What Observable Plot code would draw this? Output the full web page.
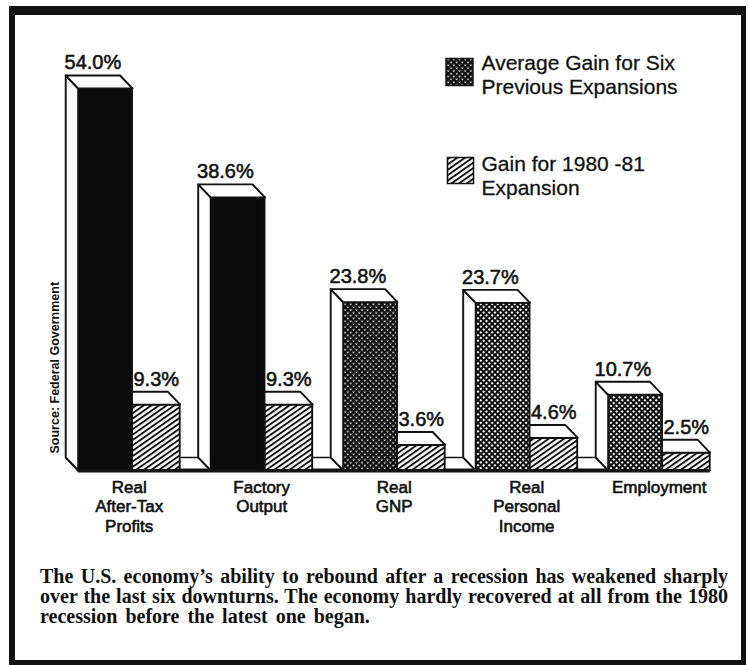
<!DOCTYPE html>
<html>
<head>
<meta charset="utf-8">
<script src="https://cdn.jsdelivr.net/npm/d3@7"></script>
<script src="https://cdn.jsdelivr.net/npm/@observablehq/plot@0.6"></script>
<style>
html, body { margin: 0; padding: 0; background: #fff; }
#wrap { position: relative; width: 749px; height: 665px; overflow: hidden; background: #fff; }
#chart { position: absolute; left: 0; top: 0; }
#border { position: absolute; left: 9px; top: 6px; width: 737px; height: 659px; box-sizing: border-box;
  border-style: solid; border-color: #111; border-width: 9px 5px 5px 6px; pointer-events: none; }
#caption { position: absolute; left: 40px; top: 566px; width: 688px; color: #111;
  font-family: "Liberation Serif", "DejaVu Serif", serif; font-weight: bold; font-size: 20px; line-height: 20px; }
#caption div { text-align: justify; text-align-last: justify; white-space: nowrap; }
#caption div.last { text-align-last: left; word-spacing: 3px; }
</style>
</head>
<body>
<div id="wrap">
  <div id="chart"></div>
  <div id="caption"></div>
  <div id="border"></div>
</div>
<script>
// ---- data ----
const categories = ["Real\nAfter-Tax\nProfits", "Factory\nOutput", "Real\nGNP", "Real\nPersonal\nIncome", "Employment"];
const averageGain = [54.0, 38.6, 23.8, 23.7, 10.7];   // Average Gain for Six Previous Expansions (%)
const gain1980 = [9.3, 9.3, 3.6, 4.6, 2.5];            // Gain for 1980-81 Expansion (%)
const seriesNames = ["Average Gain for Six\nPrevious Expansions", "Gain for 1980 -81\nExpansion"];
const sourceNote = "Source: Federal Government";
const captionLines = [
  "The U.S. economy\u2019s ability to rebound after a recession has weakened sharply",
  "over the last six downturns. The economy hardly recovered at all from the 1980",
  "recession before the latest one began."
];

// ---- geometry (in scale units) ----
const DW = 0.41;   // width of the average bar (x units)
const GW = 0.36;   // width of the 1980-81 bar
const DX = 0.094;  // 3-D depth, x
const DY = 1.84;   // 3-D depth, y (percentage units)

const groups = categories.map((c, i) => ({i, c, a: averageGain[i], g: gain1980[i]}));
const last = groups.length - 1;
const inkFill = ["#0b0b0b", "#0b0b0b", "url(#crossDark)", "url(#cross)", "url(#cross)"];

function poly(id, pts) { return [...pts, pts[0]].map(([x, y]) => ({id, x, y})); }

const floor = poly("floor", [[-DW, 0], [last + GW, 0], [last + GW - DX, DY], [-DW - DX, DY]]);
const gainTops = groups.flatMap(d => poly("gt" + d.i,
  [[d.i, d.g], [d.i + GW, d.g], [d.i + GW - DX, d.g + DY], [d.i - DX, d.g + DY]]));
const darkSides = groups.flatMap(d => poly("ds" + d.i,
  [[d.i - DW, 0], [d.i - DW, d.a], [d.i - DW - DX, d.a + DY], [d.i - DW - DX, DY]]));
const darkTops = groups.flatMap(d => poly("dt" + d.i,
  [[d.i - DW, d.a], [d.i, d.a], [d.i - DX, d.a + DY], [d.i - DW - DX, d.a + DY]]));

const ink = "#111";
const faceStyle = {x: "x", y: "y", z: "id", fill: "white", stroke: ink, strokeWidth: 1.9, strokeLinejoin: "round"};
const heavy = {fill: ink, stroke: ink, strokeWidth: 0.55};  // print-like heavier glyphs

const chart = Plot.plot({
  width: 749,
  height: 550,
  margin: 0,
  style: {background: "transparent", fontFamily: "'Liberation Sans', Arial, sans-serif", color: ink},
  x: {type: "linear", domain: [0, 4], range: [132, 662], axis: null},
  y: {type: "linear", domain: [0, 54], range: [470, 88], axis: null},
  color: {type: "identity"},
  marks: [
    Plot.line(floor, {...faceStyle, strokeWidth: 1.5}),
    Plot.ruleY([0], {x1: -DW, x2: last + GW, stroke: ink, strokeWidth: 4}),
    Plot.rect(groups, {x1: d => d.i, x2: d => d.i + GW, y1: 0, y2: "g", fill: "url(#hatch)", stroke: ink, strokeWidth: 1.9}),
    Plot.line(gainTops, faceStyle),
    Plot.rect(groups, {x1: d => d.i - DW, x2: d => d.i, y1: 0, y2: "a", fill: d => inkFill[d.i], stroke: ink, strokeWidth: 1.9}),
    Plot.line(darkSides, faceStyle),
    Plot.line(darkTops, faceStyle),
    // value labels
    Plot.text(groups, {x: d => d.i - DW / 2 - DX, y: d => d.a + DY, text: d => d.a.toFixed(1) + "%",
      lineAnchor: "bottom", dy: -6, fontSize: 20, ...heavy}),
    Plot.text(groups, {x: d => d.i, y: d => d.g + DY, text: d => d.g.toFixed(1) + "%",
      textAnchor: "start", dx: 1, lineAnchor: "bottom", dy: -6, fontSize: 20, ...heavy}),
    // category labels
    Plot.text(groups, {x: d => d.i + (GW - DW) / 2, y: 0, text: "c", lineAnchor: "top", dy: 9,
      fontSize: 17, lineHeight: 1.13, ...heavy, strokeWidth: 0.6}),
    // legend
    Plot.dot([0], {frameAnchor: "top-left", dx: 459, dy: 71.5, r: 15.2, symbol: "square",
      fill: "url(#crossDark)", stroke: ink, strokeWidth: 1.5}),
    Plot.dot([0], {frameAnchor: "top-left", dx: 460, dy: 170, r: 14.7, symbol: "square",
      fill: "url(#hatch)", stroke: ink, strokeWidth: 1.5}),
    Plot.text([seriesNames[0]], {text: d => d, frameAnchor: "top-left", dx: 481, dy: 93, textAnchor: "start",
      lineAnchor: "bottom", lineHeight: 1.12, fontSize: 21, ...heavy, strokeWidth: 0.3}),
    Plot.text([seriesNames[1]], {text: d => d, frameAnchor: "top-left", dx: 481, dy: 194, textAnchor: "start",
      lineAnchor: "bottom", lineHeight: 1.12, fontSize: 21, ...heavy, strokeWidth: 0.3}),
    // source note (rotated)
    Plot.text([sourceNote], {text: d => d, frameAnchor: "top-left", dx: 58, dy: 453, rotate: -90,
      textAnchor: "start", lineAnchor: "bottom", fontSize: 12.5, fontWeight: "bold", fill: ink})
  ]
});

// patterns
const defs = d3.select(chart).insert("defs", ":first-child");
function mesh(id, gap) {
  const p = defs.append("pattern").attr("id", id).attr("patternUnits", "userSpaceOnUse")
    .attr("width", 4).attr("height", 4).attr("patternTransform", "rotate(45)");
  p.append("rect").attr("width", 4).attr("height", 4).attr("fill", "#fff");
  p.append("rect").attr("width", 4).attr("height", 4 - gap).attr("fill", "#111");
  p.append("rect").attr("width", 4 - gap).attr("height", 4).attr("fill", "#111");
}
mesh("cross", 2.0);
mesh("crossDark", 1.5);
const h = defs.append("pattern").attr("id", "hatch").attr("patternUnits", "userSpaceOnUse")
  .attr("width", 4.4).attr("height", 4.4).attr("patternTransform", "rotate(-35)");
h.append("rect").attr("width", 4.4).attr("height", 4.4).attr("fill", "#fff");
h.append("rect").attr("width", 4.4).attr("height", 1.9).attr("fill", "#111");

document.getElementById("chart").appendChild(chart);

const cap = d3.select("#caption");
captionLines.forEach((t, k) => cap.append("div").attr("class", k === captionLines.length - 1 ? "last" : null).text(t));
</script>
</body>
</html>
